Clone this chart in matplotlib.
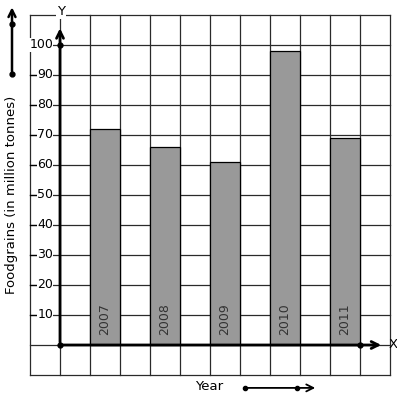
import numpy as np
import matplotlib.pyplot as plt

# Data
years = ['2007', '2008', '2009', '2010', '2011']
foodgrains = [72, 66, 61, 98, 69]
y_ticks = [10, 20, 30, 40, 50, 60, 70, 80, 90, 100]

fig = plt.figure(figsize=(3.97, 4.01), dpi=100)
ax = fig.add_axes([0, 0, 1, 1], frameon=False)
# x in grid cells from the origin, y in million tonnes (10 per cell)
ax.set_xlim(-2, 337 / 30), ax.set_xticks([])
ax.set_ylim(-56 / 3, 115), ax.set_yticks([])

# Square grid
for gx in range(-1, 12):
    ax.plot([gx, gx], [-10, 110], color='#2a2a2a', lw=0.9, zorder=1)
for gy in range(-10, 111, 10):
    ax.plot([-1, 11], [gy, gy], color='#2a2a2a', lw=0.9, zorder=1)

# Bars
xpos = np.arange(len(years)) * 2 + 1.5
ax.bar(xpos, foodgrains, width=1, color='#999999', edgecolor='black', lw=0.9, zorder=2)
for x, yr in zip(xpos, years):
    ax.text(x, 3.3, yr, rotation=90, ha='center', va='bottom', fontsize=9,
            color='#333333', zorder=3)

# Axes with arrows
ax.annotate('', xy=(0, 106.5), xytext=(0, 0),
            arrowprops=dict(arrowstyle='->,head_length=0.5,head_width=0.25', lw=2, color='black'), zorder=4)
ax.annotate('', xy=(10.8, 0), xytext=(0, 0),
            arrowprops=dict(arrowstyle='->,head_length=0.5,head_width=0.25', lw=2, color='black'), zorder=4)
ax.plot([0, 0, 10], [0, 100, 0], 'o', color='black', ms=3.5, zorder=5)
ax.text(0.03, 111, 'Y', ha='center', va='center', fontsize=9.5,
        bbox=dict(facecolor='white', edgecolor='none', pad=0.5), zorder=5)
ax.text(10.95, 0, 'X', ha='left', va='center', fontsize=9.5, zorder=5)

# y tick labels with short dash ticks
for v in y_ticks:
    ax.plot([-1, -0.8], [v, v], color='black', lw=0.9, zorder=4)
    ax.text(-0.23, v, str(v), ha='right', va='center', fontsize=9,
            bbox=dict(facecolor='white', edgecolor='none', pad=0.3), zorder=5)

# Axis titles and direction arrows
ax.text(-1.6, 50, 'Foodgrains (in million tonnes)', rotation=90, ha='center', va='center', fontsize=9.5)
ax.annotate('', xy=(-1.6, 113.5), xytext=(-1.6, 90.3),
            arrowprops=dict(arrowstyle='->,head_length=0.5,head_width=0.25', lw=1.8, color='black'))
ax.plot([-1.6, -1.6], [90.3, 107], 'o', color='black', ms=3.5)

ax.text(4.5, -14, 'Year', ha='left', va='center', fontsize=9.5)
ax.annotate('', xy=(8.6, -14.3), xytext=(6.17, -14.3),
            arrowprops=dict(arrowstyle='->,head_length=0.5,head_width=0.25', lw=1.3, color='black'))
ax.plot([6.17, 7.9], [-14.3, -14.3], 'o', color='black', ms=3)

fig.savefig('out.png', dpi=100)
